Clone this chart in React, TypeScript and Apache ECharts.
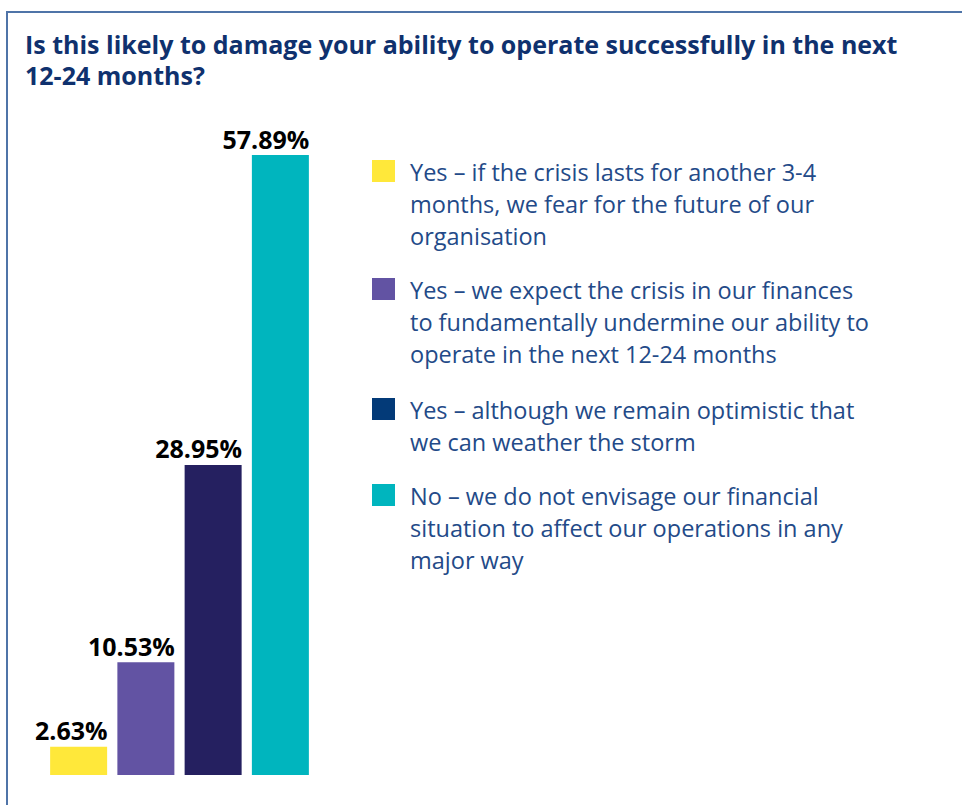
import React, { useEffect, useRef } from "react";
import * as echarts from "echarts";

const categories = ["fear", "undermine", "optimistic", "no"];
const values = [2.63, 10.53, 28.95, 57.89];
const barColors = ["#FFE83A", "#6253A3", "#252060", "#00B5BE"];
const legendColors = ["#FFE83A", "#6253A3", "#033A78", "#00B5BE"];
const legendLabels = [
  "Yes – if the crisis lasts for another 3-4\nmonths, we fear for the future of our\norganisation",
  "Yes – we expect the crisis in our finances\nto fundamentally undermine our ability to\noperate in the next 12-24 months",
  "Yes – although we remain optimistic that\nwe can weather the storm",
  "No – we do not envisage our financial\nsituation to affect our operations in any\nmajor way",
];
const legendTops = [156, 274, 394, 480];
const titleText =
  "Is this likely to damage your ability to operate successfully in the next\n12-24 months?";

export default function App() {
  const ref = useRef<HTMLDivElement>(null);
  useEffect(() => {
    const chart = echarts.init(ref.current!, undefined, { renderer: "svg" });
    const graphic: any[] = [
      {
        type: "polyline",
        shape: { points: [[7, 805], [7, 12], [962, 12]] },
        style: { stroke: "#4f74a8", lineWidth: 2, fill: "none" },
        silent: true,
      },
    ];
    legendLabels.forEach((lab, i) => {
      graphic.push({
        type: "rect",
        shape: { x: 372, y: legendTops[i] + 4, width: 23, height: 22 },
        style: { fill: legendColors[i] },
      });
      graphic.push({
        type: "text",
        x: 410,
        y: legendTops[i],
        style: {
          text: lab,
          font: "23.5px 'Open Sans'",
          fill: "#234a88",
          lineHeight: 32,
        },
      });
    });
    chart.setOption({
      animation: false,
      title: {
        text: titleText,
        left: 20,
        top: 23,
        textStyle: {
          fontFamily: "Open Sans",
          fontWeight: "bold",
          fontSize: 25,
          color: "#0f316e",
          lineHeight: 31,
        },
      },
      grid: { left: 45, width: 269, top: 155, bottom: 30 },
      xAxis: {
        type: "category",
        data: categories,
        show: false,
      },
      yAxis: { type: "value", min: 0, max: 57.89, show: false },
      series: [
        {
          type: "bar",
          barWidth: 57,
          data: values.map((v, i) => ({ value: v, itemStyle: { color: barColors[i] } })),
          label: {
            show: true,
            position: "top",
            align: "right",
            offset: [29, 0],
            distance: 4,
            formatter: (p: any) => p.value.toFixed(2) + "%",
            fontFamily: "Open Sans",
            fontWeight: "bold",
            fontSize: 25,
            color: "#000",
          },
        },
      ],
      graphic,
    });
    return () => chart.dispose();
  }, []);
  return (
    <div
      ref={ref}
      style={{ position: "fixed", left: 0, top: 0, width: 962, height: 805, background: "#fff" }}
    />
  );
}
